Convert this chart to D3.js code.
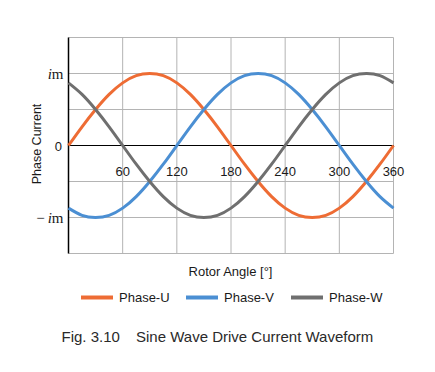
<!DOCTYPE html>
<html>
<head>
<meta charset="utf-8">
<script src="https://cdn.jsdelivr.net/npm/d3@7"></script>
<style>
  body { margin: 0; background: #fff; }
  svg { display: block; }
  text { font-family: "Liberation Sans", Arial, sans-serif; fill: #1a1a1a; }
  text.serif, text.serif tspan { font-family: "Liberation Serif", "Times New Roman", serif; }
</style>
</head>
<body>
<div id="chart"></div>
<script>
// rotor angle samples (deg)
var angles = [0, 15, 30, 45, 60, 75, 90, 105, 120, 135, 150, 165, 180,
              195, 210, 225, 240, 255, 270, 285, 300, 315, 330, 345, 360];
// phase currents (units of im)
var phaseU = [0, .26, .5, .71, .87, .97, 1, .97, .87, .71, .5, .26, 0,
              -.26, -.5, -.71, -.87, -.97, -1, -.97, -.87, -.71, -.5, -.26, 0];
var phaseV = [-.87, -.97, -1, -.97, -.87, -.71, -.5, -.26, 0, .26, .5, .71, .87,
              .97, 1, .97, .87, .71, .5, .26, 0, -.26, -.5, -.71, -.87];
var phaseW = [.87, .71, .5, .26, 0, -.26, -.5, -.71, -.87, -.97, -1, -.97, -.87,
              -.71, -.5, -.26, 0, .26, .5, .71, .87, .97, 1, .97, .87];
var seriesNames = ["Phase-U", "Phase-V", "Phase-W"];
var xTicks = [60, 120, 180, 240, 300, 360];
var yGrid = [-1.5, -1, -0.5, 0.5, 1, 1.5];

var colors = ["#ee6c34", "#4b8fd3", "#6f6f6f"];
var w = 435, h = 372;

var svg = d3.select("#chart").append("svg")
    .attr("width", w)
    .attr("height", h);

var x = d3.scaleLinear().domain([0, 360]).range([68.5, 393.5]);
var y = d3.scaleLinear().domain([-1.5, 1.5]).range([253.5, 37.5]);

// grid
svg.append("g").selectAll("line")
    .data(yGrid)
    .enter().append("line")
    .attr("x1", x(0)).attr("x2", x(360))
    .attr("y1", function(d){ return y(d) })
    .attr("y2", function(d){ return y(d) })
    .attr("stroke", "#b4b4b4").attr("stroke-width", 1);

svg.append("g").selectAll("line")
    .data(xTicks)
    .enter().append("line")
    .attr("x1", function(d){ return x(d) })
    .attr("x2", function(d){ return x(d) })
    .attr("y1", y(1.5)).attr("y2", y(-1.5))
    .attr("stroke", "#b4b4b4").attr("stroke-width", 1);

// zero line and left axis
svg.append("line")
    .attr("x1", x(0)).attr("x2", x(360))
    .attr("y1", y(0)).attr("y2", y(0))
    .attr("stroke", "#000").attr("stroke-width", 1);
svg.append("line")
    .attr("x1", x(0)).attr("x2", x(0))
    .attr("y1", y(1.5)).attr("y2", y(-1.5))
    .attr("stroke", "#000").attr("stroke-width", 1.5);

// x tick labels sit just below the zero line
svg.append("g").selectAll("text")
    .data(xTicks)
    .enter().append("text")
    .attr("x", function(d){ return x(d) })
    .attr("y", y(0) + 30)
    .attr("text-anchor", "middle")
    .attr("font-size", 13)
    .text(function(d){ return d });

// y tick labels: im, 0, -im
svg.append("text")
    .attr("x", 62).attr("y", y(0) + 5.5)
    .attr("text-anchor", "end")
    .attr("font-size", 13)
    .text("0");

function imLabel(v, neg) {
  var t = svg.append("text")
      .attr("class", "serif")
      .attr("x", 63.5).attr("y", y(v) + 5)
      .attr("text-anchor", "end")
      .attr("font-size", 15);
  if (neg) t.append("tspan").text("\u2212");
  t.append("tspan").text("i").style("font-style", "italic").attr("dx", neg ? 3 : 0);
  t.append("tspan").text("m");
}
imLabel(1, false);
imLabel(-1, true);

// curves
var data = [phaseU, phaseV, phaseW];
var line = d3.line()
    .x(function(d, i){ return x(angles[i]) })
    .y(function(d){ return y(d) })
    .curve(d3.curveNatural);

svg.append("g").selectAll("path")
    .data(data)
    .enter().append("path")
    .attr("d", line)
    .attr("fill", "none")
    .attr("stroke", function(d, i){ return colors[i] })
    .attr("stroke-width", 3);

// axis titles
svg.append("text")
    .attr("transform", "translate(41,144) rotate(-90)")
    .attr("text-anchor", "middle")
    .attr("font-size", 12.5)
    .text("Phase Current");

svg.append("text")
    .attr("x", 230.5).attr("y", 276)
    .attr("text-anchor", "middle")
    .attr("font-size", 13)
    .text("Rotor Angle [\u00b0]");

// legend
var legendX = [81, 186, 291];
var lg = svg.append("g").selectAll("g")
    .data(seriesNames)
    .enter().append("g")
    .attr("transform", function(d, i){ return "translate(" + legendX[i] + ",297.5)" });
lg.append("line")
    .attr("x1", 0).attr("x2", 32)
    .attr("stroke", function(d, i){ return colors[i] })
    .attr("stroke-width", 4);
lg.append("text")
    .attr("x", 38).attr("y", 4.5)
    .attr("font-size", 13)
    .text(function(d){ return d });

// caption
svg.append("text")
    .attr("x", 61.5).attr("y", 342)
    .attr("font-size", 15)
    .style("fill", "#2a2a2a")
    .text("Fig. 3.10");
svg.append("text")
    .attr("x", 136).attr("y", 342)
    .attr("font-size", 15)
    .style("fill", "#2a2a2a")
    .text("Sine Wave Drive Current Waveform");
</script>
</body>
</html>
